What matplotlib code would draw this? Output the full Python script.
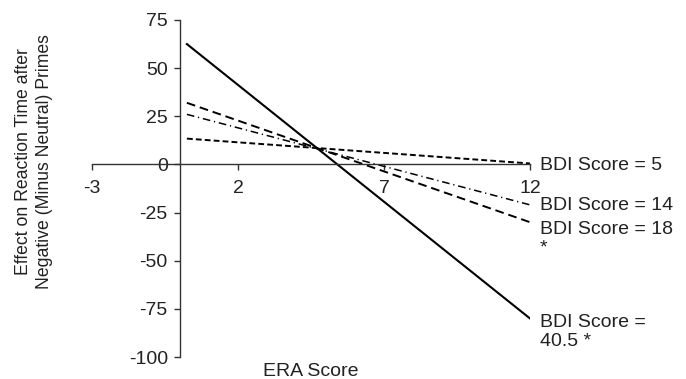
import matplotlib
matplotlib.use("Agg")
import matplotlib.pyplot as plt

plt.rcParams['font.family'] = ['Liberation Sans', 'DejaVu Sans']
plt.rcParams['axes.unicode_minus'] = False

# ERA score range covered by the simple slopes
era = [0.25, 12]

# predicted effect (ms) at low / high ERA for each BDI level
bdi_labels = ["BDI Score = 5", "BDI Score = 14", "BDI Score = 18\n*", "BDI Score =\n40.5 *"]
effect_start = [13.4, 26, 32, 62.5]
effect_end = [0.5, -21, -30, -80]

x_ticks = [-3, 2, 7, 12]
y_ticks = [-100, -75, -50, -25, 0, 25, 50, 75]

styles = [
    dict(linestyle=(0, (3, 1.6)), linewidth=1.4),
    dict(linestyle=(0, (5, 2.5, 0.8, 2.5)), linewidth=1.1),
    dict(linestyle=(0, (4.5, 2.5)), linewidth=1.4),
    dict(linestyle='-', linewidth=1.5),
]
label_y = [-0.5, -21.5, -38.5, -87]

fs = 14

fig = plt.figure(figsize=(6.86, 3.79), dpi=100)
ax = fig.add_axes([92 / 686, 22 / 379, 438 / 686, 337 / 379])

for lab, y0, y1, st, ly in zip(bdi_labels, effect_start, effect_end, styles, label_y):
    ax.plot(era, [y0, y1], color='black', **st)
    ax.text(12.33, ly, lab, fontsize=fs, va='center', ha='left',
            color='#222222', clip_on=False, linespacing=1.15)

ax.set_xlim(-3, 12)
ax.set_ylim(-100, 75)
ax.set_xticks(x_ticks)
ax.set_yticks(y_ticks)

ax.spines['left'].set_position(('data', 0))
ax.spines['bottom'].set_position(('data', 0))
ax.spines['right'].set_visible(False)
ax.spines['top'].set_visible(False)
for s in ('left', 'bottom'):
    ax.spines[s].set_linewidth(1.0)
    ax.spines[s].set_color('#333333')

ax.tick_params(axis='both', labelsize=fs, colors='#333333', labelcolor='#222222',
               direction='out', length=4.5, width=1.0)
ax.tick_params(axis='y', pad=4)
ax.tick_params(axis='x', pad=6.5)

fig.text(311 / 686, 1 - 371 / 379, 'ERA Score', fontsize=fs, ha='center', va='center',
         color='#222222')
fig.text(34 / 686, 1 - 162 / 379,
         'Effect on Reaction Time after\nNegative (Minus Neutral) Primes',
         fontsize=12.7, ha='center', va='center', rotation=90, color='#222222',
         linespacing=1.25)

fig.savefig('out.png', dpi=100)
